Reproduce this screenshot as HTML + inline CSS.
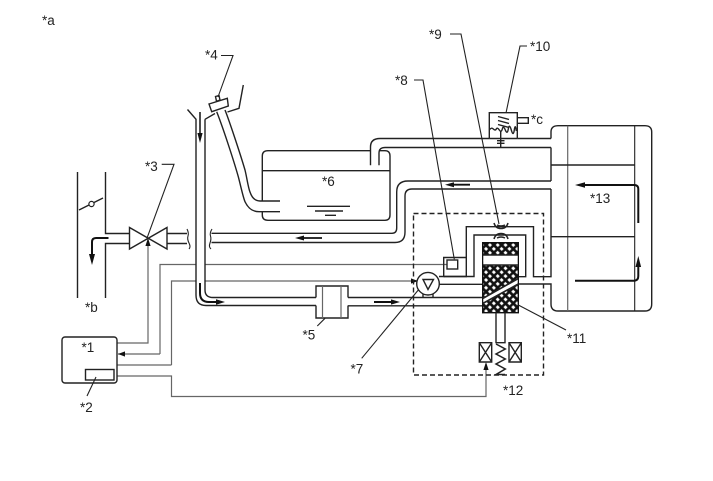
<!DOCTYPE html>
<html><head><meta charset="utf-8"><style>
html,body{margin:0;padding:0;background:#fff}
svg{display:block}
text{font-family:"Liberation Sans",sans-serif;font-size:13.5px;fill:#222}
.k{fill:none;stroke:#222;stroke-width:1.4}
.g{fill:none;stroke:#666;stroke-width:1.2}
.t{fill:none;stroke:#111;stroke-width:2}
.l{fill:none;stroke:#222;stroke-width:1.1}
</style></head><body>
<svg width="713" height="481" viewBox="0 0 713 481" xmlns="http://www.w3.org/2000/svg">
<defs>
<pattern id="h" width="5.5" height="5.5" patternUnits="userSpaceOnUse" patternTransform="rotate(45)">
<rect width="5.5" height="5.500" fill="#111"/><rect x="1.200" y="1.400" width="3" height="2.800" fill="#fff"/>
</pattern>
</defs>

<!-- signal lines -->
<path class="g" d="M160 354V264.500H196M205 264.500H447"/>
<path class="g" d="M171.500 365V281H196M205 281H417"/>
<path class="g" d="M117 343H148V244"/>
<path class="g" d="M118 354H160M117 365H171.500"/>
<path class="g" d="M117 376H171.500V396.500H486V364"/>
<path d="M148 238l-2.600 8h5.200zM118 354l7-2.600v5.200zM418 281l-7-2.600v5.200zM486 362l-2.600 8h5.200z" fill="#111"/>

<!-- duct -->
<path class="k" d="M77.500 172V298M105.500 172V233.500H129M105.500 298V243.500H129"/>
<path class="k" d="M79 210L103 198"/>
<circle cx="91.500" cy="204" r="2.600" fill="#fff" stroke="#222" stroke-width="1.200"/>
<path class="t" d="M108.500 238H96Q92 238 92 242V256"/>
<path d="M92 265l-3-11h6z" fill="#111"/>

<!-- valve -->
<path class="k" d="M129.500 227.500V249L167 227.500V249Z" stroke-linejoin="miter"/>

<!-- pipes around the valve -->
<path class="k" d="M167 233.500H187M167 243.500H187"/>
<path class="l" d="M187 229q2 4 1 7t1 7t0 6M212 229q-2.500 4 -1.500 7t-.5 7t1 6"/>

<!-- return line -->
<path class="k" d="M211.500 233.300H392Q396.700 233.300 396.700 228V192Q396.700 181 408 181H551"/>
<path class="k" d="M211.500 242.500H395Q405 242.500 405 232V196Q405 189 412 189H551"/>
<path class="t" style="stroke-width:1.800" d="M322 238H302"/>
<path d="M295 238l9-2.500v5z" fill="#111"/>
<path class="t" style="stroke-width:1.800" d="M470 184.700H452"/>
<path d="M445 184.700l9-2.500v5z" fill="#111"/>

<!-- main vertical pipe -->
<path class="k" d="M187.500 109.500L196 119.300V295Q196 305.500 206 305.500H316M205 119.300L215 113.500M205 119.300V290Q205 297.500 213 297.500H316"/>
<path class="t" style="stroke-width:1.500" d="M200 112V134"/>
<path d="M200 143l-2.600 -10h5.200z" fill="#111"/>
<path class="t" d="M200 283V293Q200 302 209 302H218"/>
<path d="M225 302l-9 -2.700v5.400z" fill="#111"/>

<!-- filter *5 -->
<path class="k" d="M316 297.500V286H348V297.500M316 305.500V318H348V305.500"/>
<path class="g" d="M322.500 286V318M341 286V318"/>
<path class="k" d="M348 297.500H482.700M348 305.800H482.700"/>
<path class="t" d="M374 302H393"/>
<path d="M400 302l-9 -2.600v5.200z" fill="#111"/>

<!-- filler neck -->
<path class="k" d="M216.700 111.700C222 125 233 158 238.300 176.700C241 187 243 197 245 201.700C248 208 252 211.700 259 211.700H280"/>
<path class="k" d="M225 110C229 120 240 153 245 170C247 178 248 187 250 192C252 198 255 201 260 201H280"/>
<path class="k" fill="#fff" d="M209 104L227.300 98.300L228.300 106L211.700 111.700Z"/>
<path class="k" d="M215.500 96.500L219 95.500L220 100L216.500 101.300Z"/>
<path class="k" d="M243.300 85L239 108.300L227.500 112"/>

<!-- canister *6 -->
<path class="k" d="M262.300 201V156Q262.300 150.700 268 150.700H370.500M379 150.700H385Q390 150.700 390 156V215Q390 220.300 385 220.300H268Q262.300 220.300 262.300 215V211.700"/>
<path class="k" d="M262.300 170.700H390"/>
<path class="k" d="M307 206.300H350M315 211H343M325 215.300H336"/>
<path class="k" d="M370.500 165.300V147Q370.500 138.500 380 138.500H489.300M517.300 138.500H551"/>
<path class="k" d="M379 165.300V153Q379 147.500 385 147.500H551"/>
<path class="k" d="M489.300 138.500H517.300"/>

<!-- pressure valve *c -->
<path class="k" d="M489.300 138.500V112.700H517.300V138.500"/>
<path class="k" d="M517.300 117.700H528.300V123.300H517.300"/>
<path class="k" d="M489.300 130q2-3 4-1t3 0 3 1 3-1 3 1 3-1 3 1 3 0 2 1"/>
<path class="k" style="stroke-width:1.400" d="M498 116.500L509 119.500M498 120.500L509 123.500M498 124.500L509 127.500"/>
<path class="k" d="M500.700 131V147M497 140.700H504.500M497 143.300H504.500"/>

<!-- tank *13 -->
<path class="k" d="M551 138.500V132Q551 125.700 558 125.700H645Q651.700 125.700 651.700 132V304Q651.700 311 645 311H558Q551 311 551 304V284H518.300"/>
<path class="k" d="M551 147.500V181M551 189V276.700H533.500V226.700H466.300V257.500H443.700V276.500H439"/>
<path class="k" d="M466.300 257.500V276.500H443.700"/>
<path class="g" d="M567.700 125.700V311"/>
<path class="l" d="M634.700 125.700V311"/>
<path class="k" d="M551 165H634.700M551 236.700H634.700"/>
<path class="t" d="M582 185H634Q638.300 185 638.300 189V223"/>
<path d="M575 185l10-2.800v5.600z" fill="#111"/>
<path class="t" d="M575 280.700H634Q638.300 280.700 638.300 276V265"/>
<path d="M638.300 256l-2.800 11h5.600z" fill="#111"/>

<!-- pump area -->
<path class="k" d="M518.300 276.700H525.700V235H474V276.500H443.700"/>
<path class="k" d="M439.500 284.300H482.700"/>
<rect x="447" y="260" width="10.700" height="9" fill="#fff" stroke="#222" stroke-width="1.400"/>
<path class="k" d="M423 292V297.500M433 292V297.500"/>
<circle cx="428" cy="283.700" r="11.300" fill="#fff" stroke="#222" stroke-width="1.400"/>
<path class="k" d="M423 279.500H433.500L428 289.500Z"/>

<!-- spool *11 -->
<rect x="482.700" y="242.700" width="35.600" height="70" fill="url(#h)" stroke="#111" stroke-width="1.400"/>
<rect x="483.300" y="255" width="34.400" height="10" fill="#fff"/>
<path d="M483.300 298.500L517.700 279V284L483.300 303Z" fill="#fff"/>
<path class="k" style="stroke-width:1.600" d="M482.700 298.500L518.300 278.500M482.700 303.500L518.300 284"/>
<path class="k" d="M482.700 255H518.300M482.700 265H518.300"/>
<path class="k" d="M496 312.700V342.700H505V312.700"/>
<path class="k" style="stroke-width:1.500" d="M496 344L505.300 349L496 354L505.300 359L496 364L505.300 369L496 374.500H505"/>
<path class="k" d="M479.300 342.700H491.700V362H479.300ZM479.300 342.700L491.700 362M491.700 342.700L479.300 362"/>
<path class="k" d="M509 342.700H521.300V362H509ZM509 342.700L521.300 362M521.300 342.700L509 362"/>

<!-- seal -->
<path class="k" style="stroke-width:1.500" d="M494 223Q495.500 228.500 501 228.500T508 223M497 225Q501 227 505 225"/>
<path class="k" style="stroke-width:1.500" d="M494 239Q495.500 233.500 501 233.500T508 239M497 238Q501 236 505 238"/>

<!-- dashed area -->
<rect x="413.500" y="213.500" width="130" height="161.500" fill="none" stroke="#222" stroke-width="1.400" stroke-dasharray="5 3"/>

<!-- ECU -->
<rect x="62" y="337" width="55" height="46" rx="3" fill="#fff" stroke="#222" stroke-width="1.400"/>
<rect x="85.500" y="369.500" width="28.500" height="10.500" fill="#fff" stroke="#222" stroke-width="1.400"/>

<!-- leaders -->
<path class="l" d="M161.700 164.300H174L147.300 237.300"/>
<path class="l" d="M96 377L87 396"/>
<path class="l" d="M221 55.500H233L218 97"/>
<path class="l" d="M325 318.300L317.300 326"/>
<path class="l" d="M418.300 290L361.700 358.300"/>
<path class="l" d="M414 80H423L454.300 259.300"/>
<path class="l" d="M450 34H461L499 224"/>
<path class="l" d="M527 46H520L506 113"/>
<path class="l" d="M518.300 305L566 330"/>

<!-- labels -->
<text x="42" y="25">*a</text>
<text x="85" y="312">*b</text>
<text x="81.500" y="352">*1</text>
<text x="80" y="412">*2</text>
<text x="145" y="171">*3</text>
<text x="205" y="59.500">*4</text>
<text x="302.500" y="339.500">*5</text>
<text x="322" y="186">*6</text>
<text x="350.500" y="373.500">*7</text>
<text x="395" y="85">*8</text>
<text x="429" y="39">*9</text>
<text x="530" y="51">*10</text>
<text x="531" y="124">*c</text>
<text x="567" y="343">*11</text>
<text x="503" y="395">*12</text>
<text x="590" y="203">*13</text>
</svg>
</body></html>
